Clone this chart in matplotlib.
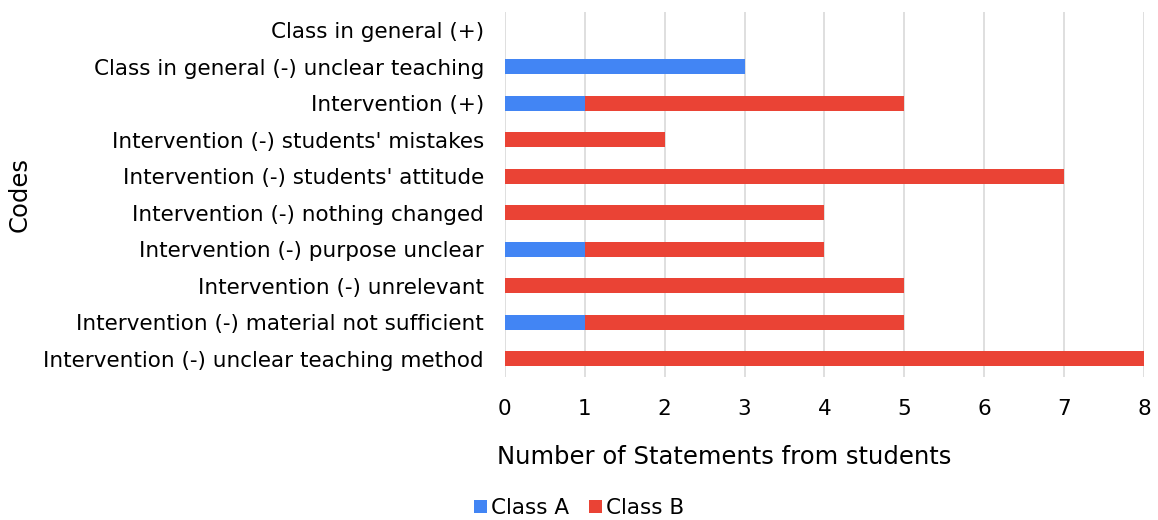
import matplotlib.pyplot as plt
import numpy as np

# Coded statements per category, listed bottom to top
codes = [
    "Intervention (-) unclear teaching method",
    "Intervention (-) material not sufficient",
    "Intervention (-) unrelevant",
    "Intervention (-) purpose unclear",
    "Intervention (-) nothing changed",
    "Intervention (-) students' attitude",
    "Intervention (-) students' mistakes",
    "Intervention (+)",
    "Class in general (-) unclear teaching",
    "Class in general (+)",
]
class_a = [0, 1, 0, 1, 0, 0, 0, 1, 3, 0]
class_b = [8, 4, 5, 3, 4, 7, 2, 4, 0, 0]

blue = "#4285F4"
red = "#EA4335"

fig = plt.figure(figsize=(11.58, 5.2), dpi=100)
ax = fig.add_axes([0.436, 0.275, 0.552, 0.702])

y = np.arange(len(codes))
h = 0.4
ax.barh(y, class_a, height=h, color=blue, label="Class A", zorder=3)
ax.barh(y, class_b, left=class_a, height=h, color=red, label="Class B", zorder=3)

ax.set_xlim(0, 8)
ax.set_ylim(-0.5, len(codes) - 0.5)
ax.set_yticks(y)
ax.set_yticklabels(codes, fontsize=15.5)
ax.set_xticks(range(9))
ax.tick_params(axis="x", labelsize=15.5, length=0, pad=16)
ax.tick_params(axis="y", length=0, pad=15)
ax.grid(axis="x", color="#d9d9d9", linewidth=1.2, zorder=0)
for s in ax.spines.values():
    s.set_visible(False)

fig.text(0.625, 1 - 457 / 520, "Number of Statements from students",
         fontsize=17.5, ha="center", va="center")
fig.text(20 / 1158, 1 - 195 / 520, "Codes", fontsize=17.5,
         rotation=90, ha="center", va="center")

fig.legend(loc="center", bbox_to_anchor=(0.5, 1 - 508 / 520), ncol=2, frameon=False,
           fontsize=15.5, handlelength=0.6, handleheight=0.6, handletextpad=0.2,
           columnspacing=0.9)

fig.savefig("out.png", dpi=100)
